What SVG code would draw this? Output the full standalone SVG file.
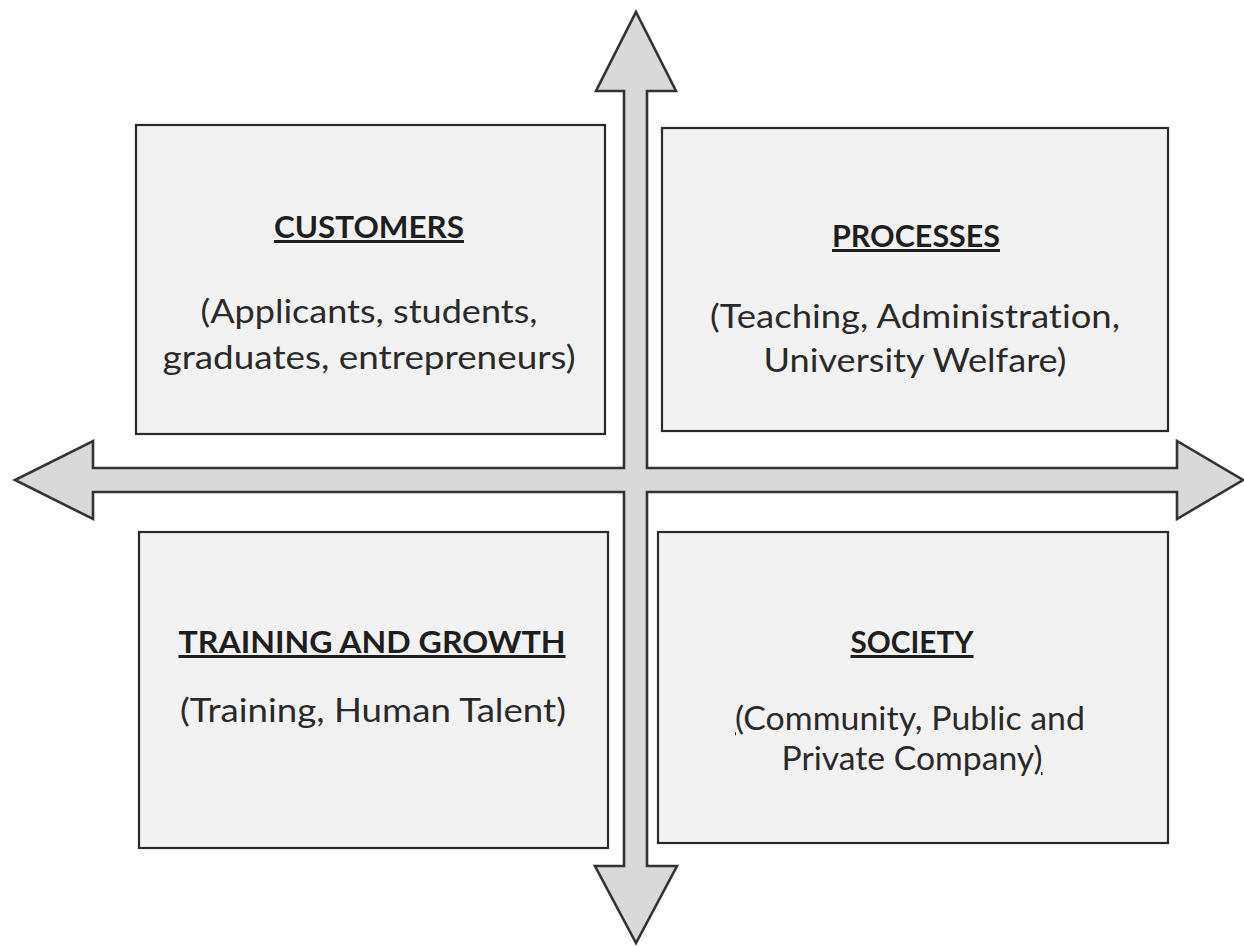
<svg xmlns="http://www.w3.org/2000/svg" width="1244" height="947" viewBox="0 0 1244 947">
  <style>
    .box { fill: #f2f2f2; stroke: #2b2b2b; stroke-width: 2.2; }
    .axis { fill: #d9d9d9; stroke: #333333; stroke-width: 2.6; stroke-linejoin: miter; }
    .title { font-family: Lato, "Open Sans", "Liberation Sans", sans-serif; font-weight: bold; font-size: 30px; fill: #1e1e1e; text-anchor: middle; text-decoration: underline; font-variant-ligatures: none; }
    .body { font-family: Lato, "Open Sans", "Liberation Sans", sans-serif; font-size: 32px; fill: #2a2a2a; text-anchor: middle; font-variant-ligatures: none; }
    .ul { text-decoration: underline; }
  </style>

  <rect width="1244" height="947" fill="#ffffff"/>

  <!-- four-headed cross arrow dividing the quadrants -->
  <g id="connectors">
    <polygon class="axis" points="636,12 676,91 647,91 647,468 1177,468 1177,441 1243,480 1177,519 1177,492 647,492 647,866 677,866 636,943 595,866 624,866 624,492 93,492 93,519 15,480 93,441 93,468 624,468 624,91 596,91"/>
  </g>

  <g id="customers">
    <rect class="box" x="136" y="125" width="469" height="309"/>
    <text class="title" x="369" y="238" textLength="190" lengthAdjust="spacingAndGlyphs">CUSTOMERS</text>
    <text class="body" x="369" y="323" textLength="337" lengthAdjust="spacingAndGlyphs">(Applicants, students,</text>
    <text class="body" x="369" y="369" textLength="413" lengthAdjust="spacingAndGlyphs">graduates, entrepreneurs)</text>
  </g>

  <g id="processes">
    <rect class="box" x="662" y="128" width="506" height="303"/>
    <text class="title" x="916" y="247" textLength="168" lengthAdjust="spacingAndGlyphs">PROCESSES</text>
    <text class="body" x="915" y="328" textLength="410" lengthAdjust="spacingAndGlyphs">(Teaching, Administration,</text>
    <text class="body" x="915" y="372" textLength="303" lengthAdjust="spacingAndGlyphs">University Welfare)</text>
  </g>

  <g id="training-and-growth">
    <rect class="box" x="139" y="532" width="469" height="316"/>
    <text class="title" x="372" y="653" textLength="387" lengthAdjust="spacingAndGlyphs">TRAINING AND GROWTH</text>
    <text class="body" x="373" y="722" textLength="386" lengthAdjust="spacingAndGlyphs">(Training, Human Talent)</text>
  </g>

  <g id="society">
    <rect class="box" x="658" y="532" width="510" height="311"/>
    <text class="title" x="912" y="653" textLength="123" lengthAdjust="spacingAndGlyphs">SOCIETY</text>
    <text class="body" x="910" y="730" textLength="350" lengthAdjust="spacingAndGlyphs"><tspan class="ul">(</tspan>Community, Public and</text>
    <text class="body" x="912" y="770" textLength="261" lengthAdjust="spacingAndGlyphs">Private Company<tspan class="ul">)</tspan></text>
  </g>
</svg>
